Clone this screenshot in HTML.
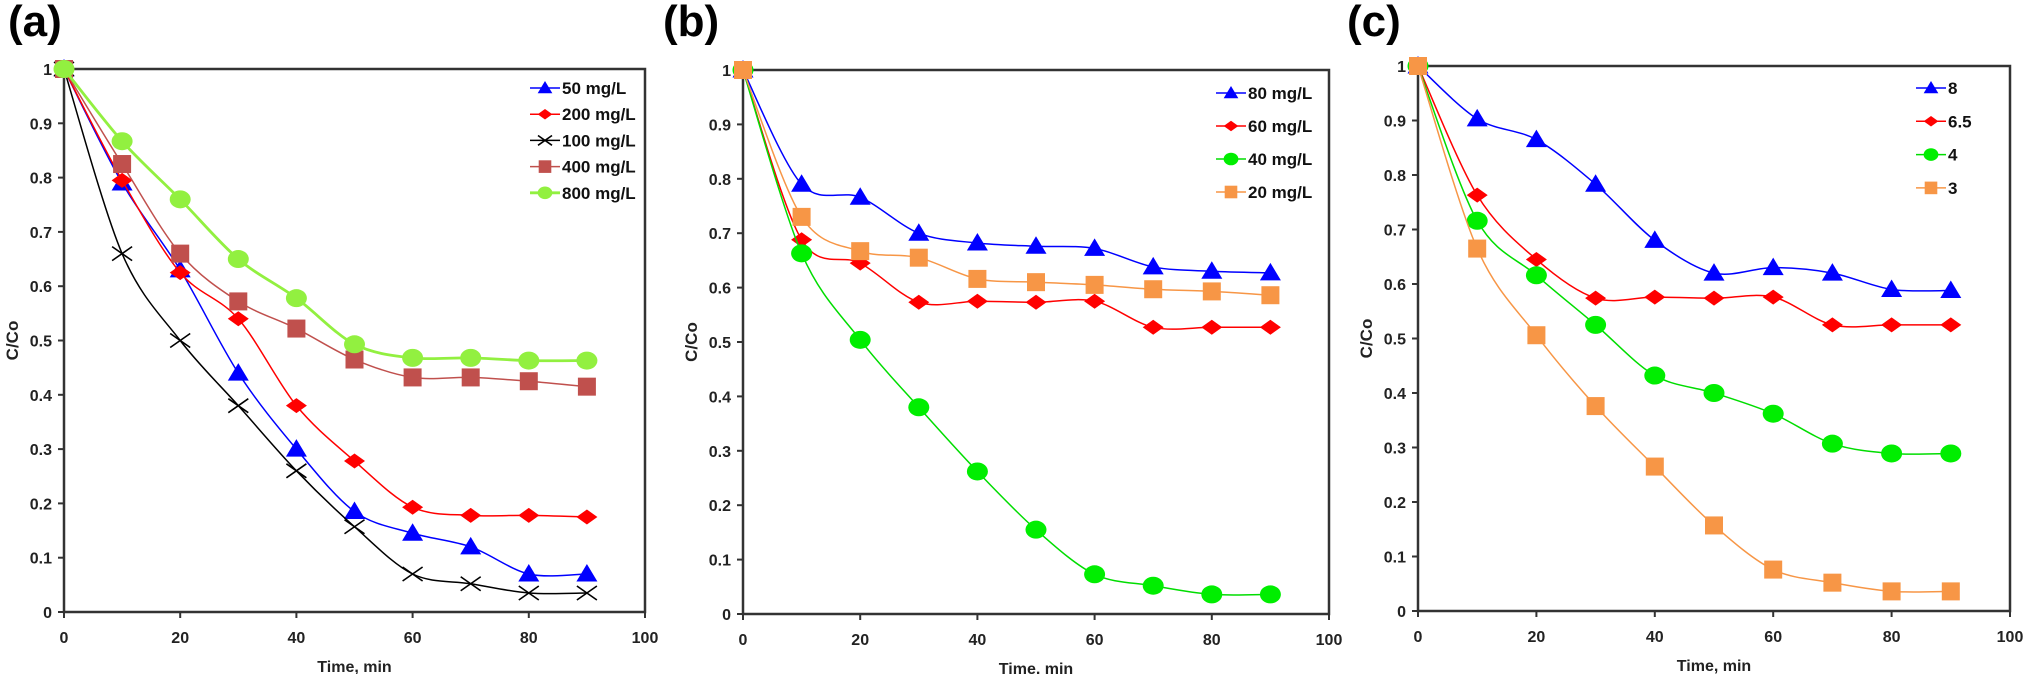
<!DOCTYPE html>
<html><head><meta charset="utf-8"><style>
html,body{margin:0;padding:0;background:#fff}
svg{display:block;font-family:"Liberation Sans",Arial,sans-serif}
</style></head><body>
<svg id="fig" width="2031" height="674" viewBox="0 0 2031 674" xmlns="http://www.w3.org/2000/svg"></svg>
<script>
const times = [0,10,20,30,40,50,60,70,80,90];
const xTicks = [0,20,40,60,80,100];
const yTicks = [0,0.1,0.2,0.3,0.4,0.5,0.6,0.7,0.8,0.9,1];
const yTickLabels = ["0","0.1","0.2","0.3","0.4","0.5","0.6","0.7","0.8","0.9","1"];
// Panel (a)
const aNames = ["50 mg/L","200 mg/L","100 mg/L","400 mg/L","800 mg/L"];
const a50 = [1,.79,.63,.44,.30,.185,.145,.12,.07,.07];
const a200 = [1,.795,.625,.54,.38,.278,.193,.178,.178,.175];
const a100 = [1,.66,.50,.38,.26,.157,.07,.052,.035,.035];
const a400 = [1,.825,.66,.572,.522,.465,.432,.432,.425,.415];
const a800 = [1,.867,.76,.65,.578,.493,.468,.468,.463,.463];
// Panel (b)
const bNames = ["80 mg/L","60 mg/L","40 mg/L","20 mg/L"];
const b80 = [1,.79,.766,.70,.682,.676,.672,.638,.63,.627];
const b60 = [1,.688,.645,.573,.575,.573,.575,.527,.527,.527];
const b40 = [1,.663,.504,.38,.262,.155,.073,.052,.036,.036];
const b20 = [1,.73,.667,.655,.616,.61,.605,.597,.593,.586];
// Panel (c)
const cNames = ["8","6.5","4","3"];
const c8 = [1,.903,.865,.783,.68,.62,.63,.62,.59,.588];
const c65 = [1,.763,.645,.574,.576,.574,.576,.525,.525,.525];
const c4 = [1,.716,.616,.525,.432,.40,.362,.307,.289,.289];
const c3 = [1,.665,.506,.376,.265,.157,.076,.052,.036,.036];

const NS="http://www.w3.org/2000/svg";
const svg=document.getElementById('fig');
function mk(tag,attrs,parent){const e=document.createElementNS(NS,tag);for(const k in attrs)e.setAttribute(k,attrs[k]);(parent||svg).appendChild(e);return e;}

function marker(g,type,x,y,color,s){
  let e;
  if(type==='tri'){e=mk('polygon',{points:`${x},${y-s} ${x-s*1.05},${y+s*0.75} ${x+s*1.05},${y+s*0.75}`,fill:color},g);}
  else if(type==='dia'){e=mk('polygon',{points:`${x},${y-s*0.75} ${x+s*1.05},${y} ${x},${y+s*0.75} ${x-s*1.05},${y}`,fill:color},g);}
  else if(type==='sq'){e=mk('rect',{x:x-s*0.9,y:y-s*0.9,width:s*1.8,height:s*1.8,fill:color},g);}
  else if(type==='circ'){e=mk('ellipse',{cx:x,cy:y,rx:s*1.05,ry:s*0.9,fill:color},g);}
  else if(type==='x'){e=mk('path',{d:`M${x-s},${y-s*0.7}L${x+s},${y+s*0.7}M${x-s},${y+s*0.7}L${x+s},${y-s*0.7}`,stroke:color,'stroke-width':1.6,fill:'none'},g);}
  return e;
}
function smooth(pts){
  let d=`M${pts[0][0]},${pts[0][1]}`;
  for(let i=0;i<pts.length-1;i++){
    const p0=pts[Math.max(i-1,0)],p1=pts[i],p2=pts[i+1],p3=pts[Math.min(i+2,pts.length-1)];
    const t=0.16;
    const c1=[p1[0]+(p2[0]-p0[0])*t,p1[1]+(p2[1]-p0[1])*t];
    const c2=[p2[0]-(p3[0]-p1[0])*t,p2[1]-(p3[1]-p1[1])*t];
    d+=`C${c1[0]},${c1[1]} ${c2[0]},${c2[1]} ${p2[0]},${p2[1]}`;
  }
  return d;
}

function panel(cfg){
  const g=mk('g',{});
  
  
  const xs=v=>cfg.x0+(cfg.x1-cfg.x0)*v/100;
  const ys=v=>cfg.y0-(cfg.y0-cfg.y1)*v;
  const lbl=mk('text',{x:cfg.lx,y:36,'font-size':44,'font-weight':'bold',fill:'#000'},g);
  lbl.textContent='('+cfg.id+')';
  
  
  const frame=mk('rect',{x:cfg.x0,y:cfg.y1,width:cfg.x1-cfg.x0,height:cfg.y0-cfg.y1,fill:'none',stroke:'#333','stroke-width':2.5},g);
  
  
  yTicks.forEach((v,i)=>{
    mk('line',{x1:cfg.x0-6,x2:cfg.x0,y1:ys(v),y2:ys(v),stroke:'#333','stroke-width':2},g);
    const t=mk('text',{x:cfg.x0-12,y:ys(v)+6,'text-anchor':'end','font-size':16,'font-weight':'bold',fill:'#222'},g);
    t.textContent=yTickLabels[i];
    
    
  });
  xTicks.forEach(v=>{
    mk('line',{x1:xs(v),x2:xs(v),y1:cfg.y0,y2:cfg.y0+6,stroke:'#333','stroke-width':2},g);
    const t=mk('text',{x:xs(v),y:cfg.y0+31,'text-anchor':'middle','font-size':16,'font-weight':'bold',fill:'#222'},g);
    t.textContent=String(v);
    
    
  });
  const xt=mk('text',{x:(cfg.x0+cfg.x1)/2,y:cfg.y0+60,'text-anchor':'middle','font-size':16,'font-weight':'bold',fill:'#222'},g);
  xt.textContent='Time, min';
  
  
  const yt=mk('text',{x:0,y:0,'text-anchor':'middle','font-size':17,'font-weight':'bold',fill:'#222',transform:`translate(${cfg.x0-46},${(cfg.y0+cfg.y1)/2}) rotate(-90)`},g);
  yt.textContent='C/Co';
  
  
  cfg.series.forEach((s,si)=>{
    const sg=mk('g',{},g);
    
    
    const pts=s.vals.map((v,i)=>[xs(times[i]),ys(v)]);
    mk('path',{d:smooth(pts),stroke:s.color,'stroke-width':s.lw||1.5,fill:'none'},sg);
    pts.forEach(p=>{
      const m=marker(sg,s.type,p[0],p[1],s.mcolor||s.color,s.size||10);
      
      
    });
    const ly=cfg.legY+si*cfg.legDy;
    const lg=mk('g',{},g);
    
    
    mk('line',{x1:cfg.legX,x2:cfg.legX+30,y1:ly,y2:ly,stroke:s.color,'stroke-width':s.lw||1.5},lg);
    marker(lg,s.type,cfg.legX+15,ly,s.mcolor||s.color,7);
    const lt=mk('text',{x:cfg.legX+32,y:ly+6,'font-size':17,'font-weight':'bold',fill:'#111'},lg);
    lt.textContent=s.name;
  });
}

panel({id:'a',lx:8,x0:64,x1:645,y0:612,y1:69,legX:530,legY:88,legDy:26.2,series:[
 {name:aNames[0],vals:a50,color:'#0000ff',type:'tri'},
 {name:aNames[1],vals:a200,color:'#ff0000',type:'dia'},
 {name:aNames[2],vals:a100,color:'#000',type:'x'},
 {name:aNames[3],vals:a400,color:'#c0504d',mcolor:'#c0504d',type:'sq'},
 {name:aNames[4],vals:a800,color:'#92f040',type:'circ',lw:2.8}
]});
panel({id:'b',lx:663,x0:743,x1:1329,y0:614,y1:70,legX:1216,legY:93,legDy:33,series:[
 {name:bNames[0],vals:b80,color:'#0000ff',type:'tri'},
 {name:bNames[1],vals:b60,color:'#ff0000',type:'dia'},
 {name:bNames[2],vals:b40,color:'#00dd00',mcolor:'#00ee00',type:'circ'},
 {name:bNames[3],vals:b20,color:'#f79646',type:'sq'}
]});
panel({id:'c',lx:1347,x0:1418,x1:2010,y0:611,y1:66,legX:1916,legY:88,legDy:33.3,series:[
 {name:cNames[0],vals:c8,color:'#0000ff',type:'tri'},
 {name:cNames[1],vals:c65,color:'#ff0000',type:'dia'},
 {name:cNames[2],vals:c4,color:'#00dd00',mcolor:'#00ee00',type:'circ'},
 {name:cNames[3],vals:c3,color:'#f79646',type:'sq'}
]});
</script>
</body></html>
